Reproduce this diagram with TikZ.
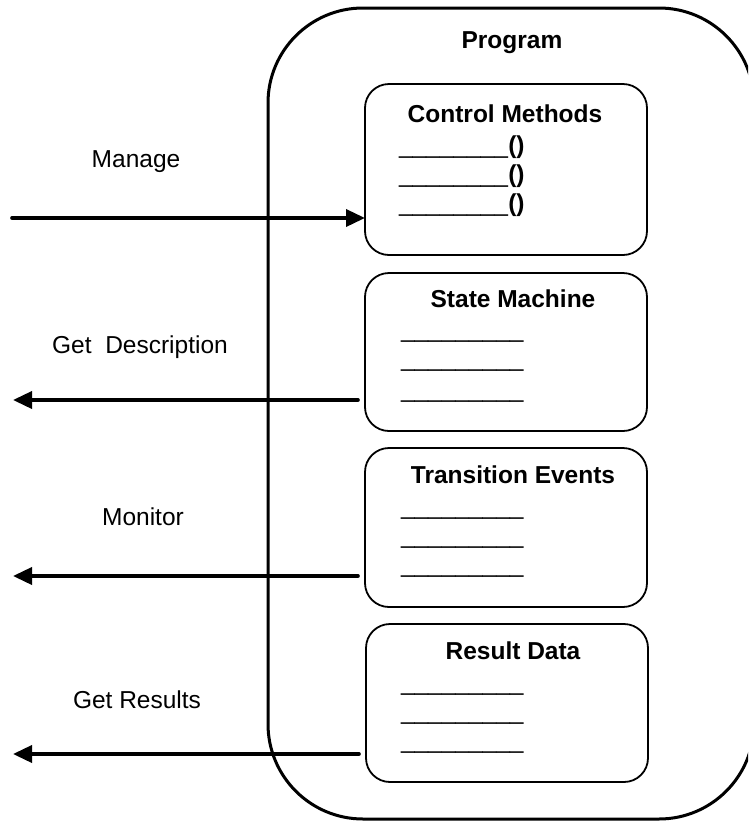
\documentclass[tikz,border=0pt]{standalone}
\usepackage{fontspec}
\setmainfont{Liberation Sans}
\usetikzlibrary{arrows.meta}
\begin{document}
\begin{tikzpicture}[x=1pt,y=-1pt,
 every node/.style={font=\fontsize{24.5}{29}\selectfont, inner sep=0pt, outer sep=0pt},
 outer/.style={draw, rectangle, line width=3pt, rounded corners=95pt, anchor=north west},
 part/.style={draw, rectangle, line width=1.8pt, rounded corners=24pt, minimum width=282pt, anchor=north west},
 title/.style={font=\fontsize{24.5}{29}\selectfont\bfseries, anchor=base},
 lbl/.style={anchor=base},
 row/.style={anchor=base west},
 flow/.style={line width=3.6pt, line cap=round, -{Triangle[length=19pt,width=17pt]}}
]
\useasboundingbox (0,0) rectangle (748,823);
\clip (0,0) rectangle (748,823);
\node[outer, minimum width=486pt, minimum height=811pt] (prog) at (268,8) {};
\node[part, minimum height=171pt] (cm) at (365,84) {};
\node[part, minimum height=158pt] (sm) at (365,273) {};
\node[part, minimum height=159pt] (te) at (365,448) {};
\node[part, minimum height=158pt] (rd) at (366,624) {};

\node[title] (tp) at (512,48) {Program};
\node[title] (tcm) at (505,122) {Control Methods};
\node[title] (tsm) at (513,307) {State Machine};
\node[title] (tte) at (513,483) {Transition Events};
\node[title] (trd) at (513,659) {Result Data};

\node[row] (cm1) at (399,153) {\_\_\_\_\_\_\_\_\textbf{()}};
\node[row] (cm2) at (399,182) {\_\_\_\_\_\_\_\_\textbf{()}};
\node[row] (cm3) at (399,211) {\_\_\_\_\_\_\_\_\textbf{()}};
\node[row] (sm1) at (401,337) {\_\_\_\_\_\_\_\_\_};
\node[row] (sm2) at (401,366) {\_\_\_\_\_\_\_\_\_};
\node[row] (sm3) at (401,397) {\_\_\_\_\_\_\_\_\_};
\node[row] (te1) at (401,514) {\_\_\_\_\_\_\_\_\_};
\node[row] (te2) at (401,543) {\_\_\_\_\_\_\_\_\_};
\node[row] (te3) at (401,572) {\_\_\_\_\_\_\_\_\_};
\node[row] (rd1) at (401,690) {\_\_\_\_\_\_\_\_\_};
\node[row] (rd2) at (401,719) {\_\_\_\_\_\_\_\_\_};
\node[row] (rd3) at (401,748) {\_\_\_\_\_\_\_\_\_};

\node[lbl] (lm) at (136,167) {Manage};
\node[lbl] (ld) at (140,353) {Get\ \ Description};
\node[lbl] (lmo) at (143,525) {Monitor};
\node[lbl] (lr) at (137,708) {Get Results};

\coordinate (m0) at (12,218);
\coordinate (d0) at (13,400);
\coordinate (o0) at (13,576);
\coordinate (r0) at (13,754);
\draw[flow] (m0) -- (m0 -| cm.west);
\draw[flow, shorten <=7pt] (d0 -| sm.west) -- (d0);
\draw[flow, shorten <=7pt] (o0 -| te.west) -- (o0);
\draw[flow, shorten <=7pt] (r0 -| rd.west) -- (r0);
\end{tikzpicture}
\end{document}
